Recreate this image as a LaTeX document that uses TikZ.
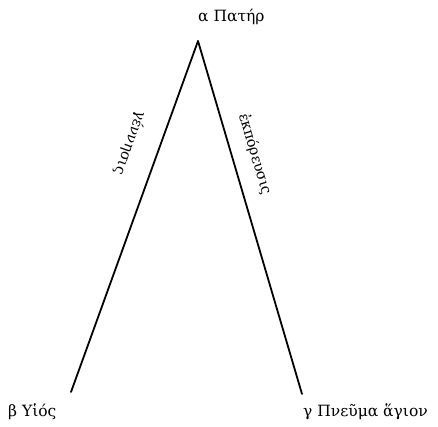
\documentclass[tikz,border=0pt]{standalone}
\usepackage{fontspec}
\setmainfont{DejaVu Serif}
\begin{document}
\begin{tikzpicture}[x=1pt,y=-1pt,
  edge/.style={line width=1.8pt, line cap=round},
  lbl/.style={font=\fontsize{15.5}{18}\selectfont, inner sep=0pt},
  elbl/.style={font=\fontsize{14.5}{17}\selectfont, inner sep=0pt}]
\useasboundingbox (0,0) rectangle (438,426);
\coordinate (apex) at (198,41);
\coordinate (left) at (71,392);
\coordinate (right) at (302,394);
\node[lbl, anchor=base west] (pater) at (198,21) {α Πατήρ};
\node[lbl, anchor=base west] (huios) at (8,416) {β Υἱός};
\node[lbl, anchor=base west] (pneuma) at (303,416) {γ Πνεῦμα ἅγιον};
\draw[edge] (apex) -- (left);
\draw[edge] (apex) -- (right);
\node[elbl, rotate=-110] (gen) at (130,143) {γέννησις};
\node[elbl, rotate=-73.5] (ekp) at (255,154) {ἐκπόρευσις};
\end{tikzpicture}
\end{document}
